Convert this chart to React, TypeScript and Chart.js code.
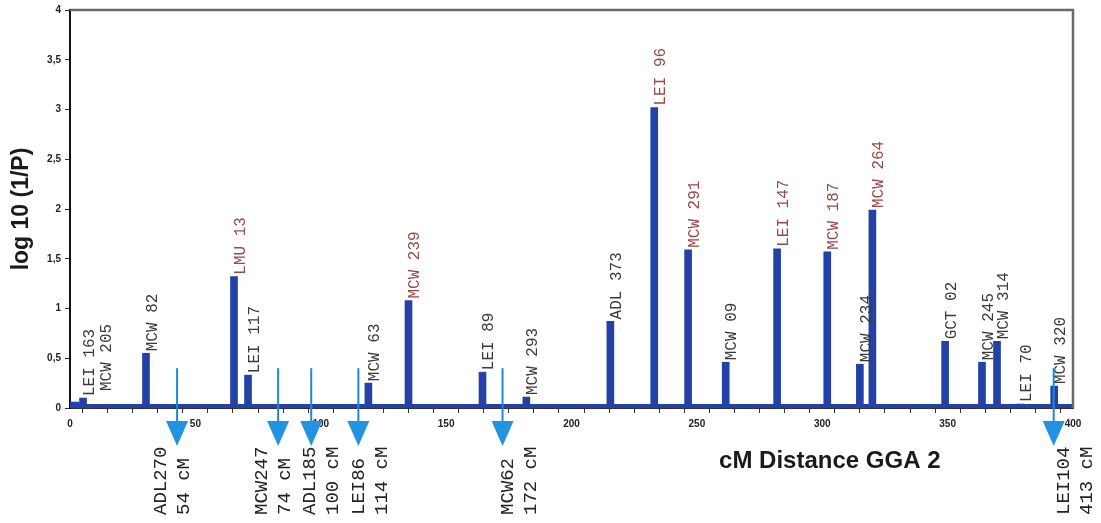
import React, { useEffect, useRef } from 'react';
import { Chart, registerables } from 'chart.js';

Chart.register(...registerables);

// Markers on GGA 2: name, position (cM on the plotted axis), log10(1/P)
const markerNames = ['LEI 163', 'MCW 205', 'MCW 82', 'LMU 13', 'LEI 117', 'MCW 63', 'MCW 239', 'LEI 89', 'MCW 293', 'ADL 373', 'LEI 96', 'MCW 291', 'MCW 09', 'LEI 147', 'MCW 187', 'MCW 234', 'MCW 264', 'GCT 02', 'MCW 245', 'MCW 314', 'LEI 70', 'MCW 320'];
const markerPos = [5.2, 12, 30.3, 65.4, 71, 119, 135, 164.5, 182, 215.5, 233, 246.5, 261.5, 282, 302, 315, 320, 349, 363.7, 369.7, 379, 392.5];
const markerLod = [0.1, 0.02, 0.55, 1.32, 0.33, 0.25, 1.08, 0.36, 0.11, 0.87, 3.02, 1.59, 0.46, 1.6, 1.57, 0.44, 1.99, 0.67, 0.46, 0.67, 0.04, 0.22];
const highlightedMarkers = ['LMU 13', 'MCW 239', 'LEI 96', 'MCW 291', 'LEI 147', 'MCW 187', 'MCW 264'];
// label of MCW 205 starts higher than its (near-zero) bar
const labelBaseOverride: Record<string, number> = { 'MCW 205': 0.15 };

// small step at the very start of the chromosome
const stepPos = [1.8];
const stepLod = [0.06];

// continuous low baseline along the chromosome
const baselinePos = [0, 400];
const baselineLod = [0.02, 0.02];

// Reference markers shown as arrows below the axis
const arrowNames = ['ADL270', 'MCW247', 'ADL185', 'LEI86', 'MCW62', 'LEI104'];
const arrowDist = ['54 cM', '74 cM', '100 cM', '114 cM', '172 cM', '413 cM'];
const arrowPos = [42.7, 83, 96.2, 115, 172.5, 392.3];
const arrowLabelPos = [36.3, 76.6, 95.7, 115.3, 174.7, 396.2];
const arrowTop = 0.4;

const xTickLabels = [0, 50, 100, 150, 200, 250, 300, 350, 400];

const yTitle = 'log 10 (1/P)';
const xTitle = 'cM Distance GGA 2';

const BAR = '#2341a6';
const RED = '#9a4848';
const DARK = '#3a3a3a';
const ARROW = '#1c8ad8';

const overlay = {
  id: 'overlay',
  afterDatasetsDraw(chart: any) {
    const { ctx, chartArea, scales } = chart;
    const x = scales.x;
    const y = scales.y;
    ctx.save();
    // frame top & right
    ctx.strokeStyle = '#6a6a6a';
    ctx.lineWidth = 2.5;
    ctx.beginPath();
    ctx.moveTo(chartArea.left, chartArea.top);
    ctx.lineTo(chartArea.right, chartArea.top);
    ctx.lineTo(chartArea.right, chartArea.bottom);
    ctx.stroke();

    // marker labels
    ctx.font = '16px "Liberation Mono"';
    ctx.textAlign = 'left';
    ctx.textBaseline = 'middle';
    markerNames.forEach((n, i) => {
      const px = x.getPixelForValue(markerPos[i]) + 6.5;
      const base = labelBaseOverride[n] !== undefined ? labelBaseOverride[n] : markerLod[i];
      const py = y.getPixelForValue(base) - 2;
      ctx.save();
      ctx.translate(px, py);
      ctx.rotate(-Math.PI / 2);
      ctx.fillStyle = highlightedMarkers.includes(n) ? RED : DARK;
      ctx.fillText(n, 0, 0);
      ctx.restore();
    });

    // arrows
    arrowPos.forEach((p) => {
      const px = x.getPixelForValue(p);
      const top = y.getPixelForValue(arrowTop);
      const headTop = chartArea.bottom + 13;
      ctx.strokeStyle = ARROW;
      ctx.lineWidth = 2;
      ctx.beginPath();
      ctx.moveTo(px, top);
      ctx.lineTo(px, headTop + 2);
      ctx.stroke();
      ctx.fillStyle = '#2293e2';
      ctx.beginPath();
      ctx.moveTo(px - 11, headTop);
      ctx.lineTo(px + 11, headTop);
      ctx.lineTo(px, headTop + 25);
      ctx.closePath();
      ctx.fill();
    });

    // arrow labels
    ctx.font = '19px "Liberation Mono"';
    ctx.fillStyle = '#222';
    arrowNames.forEach((n, i) => {
      const px = x.getPixelForValue(arrowLabelPos[i]);
      const py = chartArea.bottom + 107;
      ctx.save();
      ctx.translate(px, py);
      ctx.rotate(-Math.PI / 2);
      ctx.fillText(n, 0, 0);
      ctx.fillText(arrowDist[i], 0, 23);
      ctx.restore();
    });

    // titles
    ctx.font = 'bold 24px "Liberation Sans"';
    ctx.fillStyle = '#1a1a1a';
    ctx.textAlign = 'center';
    ctx.fillText(xTitle, x.getPixelForValue(303), chartArea.bottom + 53);
    ctx.font = 'bold 23px "Liberation Sans"';
    ctx.save();
    ctx.translate(22, (chartArea.top + chartArea.bottom) / 2);
    ctx.rotate(-Math.PI / 2);
    ctx.fillText(yTitle, 0, 0);
    ctx.restore();

    ctx.restore();
  },
};

export default function App() {
  const ref = useRef<HTMLCanvasElement>(null);
  useEffect(() => {
    document.body.style.margin = '0';
    const canvas = ref.current!;
    const chart = new Chart(canvas, {
      type: 'bar',
      data: {
        datasets: [
          {
            type: 'line',
            data: baselinePos.map((p, i) => ({ x: p, y: baselineLod[i] })),
            borderColor: BAR,
            borderWidth: 4,
            pointRadius: 0,
            order: 2,
          } as any,
          {
            type: 'bar',
            data: stepPos.map((p, i) => ({ x: p, y: stepLod[i] })),
            backgroundColor: BAR,
            barThickness: 9,
            grouped: false,
            order: 1,
          },
          {
            type: 'bar',
            data: markerPos.map((p, i) => ({ x: p, y: markerLod[i] })),
            backgroundColor: BAR,
            borderWidth: 0,
            barThickness: 7,
            grouped: false,
            order: 1,
          },
        ],
      },
      options: {
        responsive: false,
        animation: false,
        layout: { padding: { top: 8, right: 28, left: 0, bottom: 0 } },
        plugins: { legend: { display: false }, tooltip: { enabled: false } },
        scales: {
          x: {
            type: 'linear',
            min: 0,
            max: 400,
            offset: false,
            afterFit: (s: any) => {
              s.height = 115;
            },
            grid: { drawOnChartArea: false, drawTicks: true, tickLength: 5, tickColor: '#333' },
            border: { display: true, color: '#333', width: 1 },
            ticks: {
              stepSize: 10,
              autoSkip: false,
              maxRotation: 0,
              padding: 5,
              color: '#222',
              font: { family: '"Liberation Sans"', size: 10, weight: 'bold' },
              callback: (v: any) => (xTickLabels.includes(Number(v)) ? String(v) : ''),
            },
          },
          y: {
            min: 0,
            max: 4,
            afterFit: (s: any) => {
              s.width = 70;
            },
            grid: { drawOnChartArea: false, drawTicks: true, tickLength: 5, tickColor: '#333' },
            border: { display: true, color: '#111', width: 2 },
            ticks: {
              stepSize: 0.5,
              padding: 4,
              color: '#222',
              font: { family: '"Liberation Sans"', size: 10, weight: 'bold' },
              callback: (v: any) => String(v).replace('.', ','),
            },
          },
        },
      },
      plugins: [overlay],
    });
    return () => chart.destroy();
  }, []);
  return <canvas ref={ref} width={1101} height={523} style={{ display: 'block' }} />;
}
